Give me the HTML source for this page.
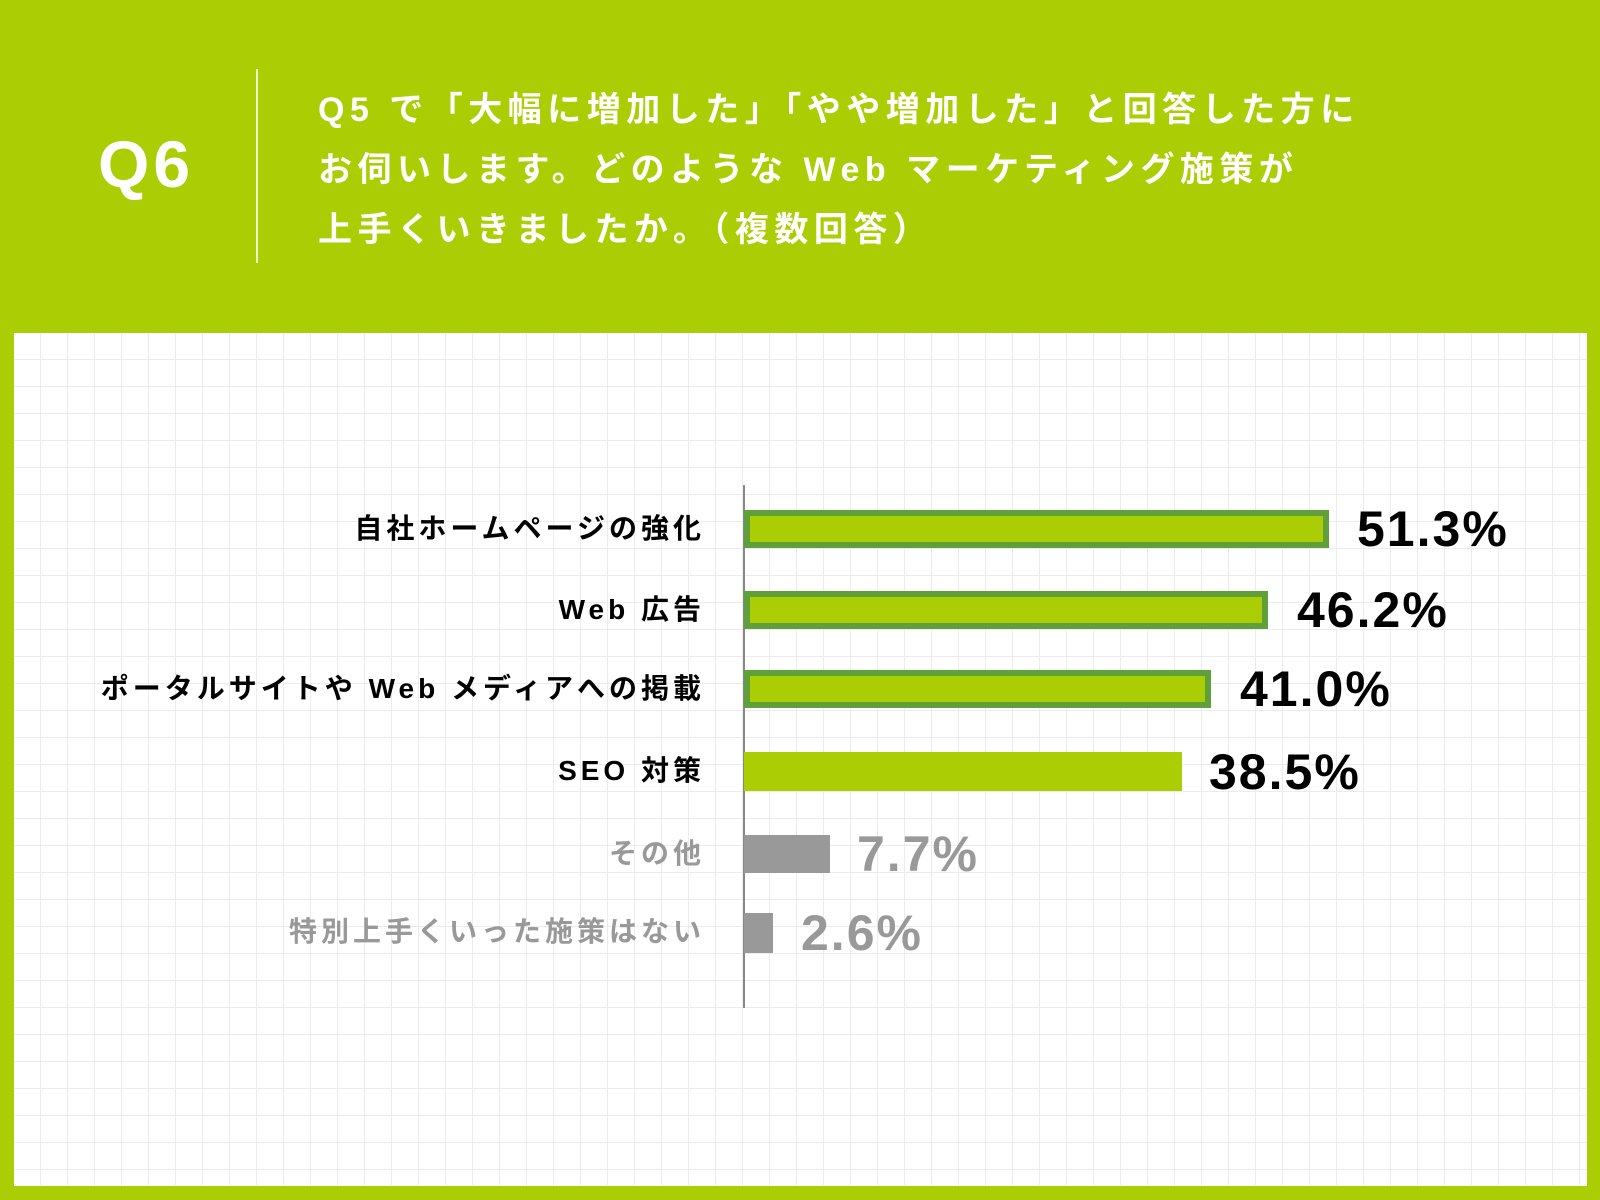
<!DOCTYPE html>
<html><head><meta charset="utf-8"><style>
body{margin:0;width:1600px;height:1200px;background:#abcd03;position:relative;overflow:hidden;font-family:"Liberation Sans","Noto Sans CJK JP",sans-serif}
.panel{position:absolute;left:14px;top:333px;width:1573px;height:853px;background-color:#fff;
background-image:linear-gradient(to right,#ececec 1px,transparent 1px),linear-gradient(to bottom,#ececec 1px,transparent 1px);background-size:27px 27px;background-position:-1px -1px}
.q{position:absolute;left:98px;top:126px;font-size:66px;font-weight:bold;color:#fff;letter-spacing:4px}
.vl{position:absolute;left:256px;top:69px;width:2px;height:194px;background:#fff;opacity:.8}
.t{position:absolute;left:318px;top:80px;font-size:34px;font-weight:bold;color:#fff;line-height:60px;white-space:nowrap;letter-spacing:5.5px}
.ax{position:absolute;left:743px;top:485px;width:2px;height:523px;background:#888}
.bar{position:absolute;left:744px;box-sizing:border-box}
.g{background:#abcd03;border:6px solid #5fa03a}
.lab{position:absolute;right:895px;font-size:28px;font-weight:bold;white-space:nowrap;line-height:38px;letter-spacing:4px}
.val{position:absolute;font-size:50px;font-weight:bold;line-height:38px;letter-spacing:2px}
</style></head><body>
<div class="q">Q6</div>
<div class="vl"></div>
<div class="t">Q5 で「大幅に増加した」「やや増加した」と回答した方に<br>お伺いします。どのような Web マーケティング施策が<br>上手くいきましたか。（複数回答）</div>
<div class="panel"></div>
<div class="ax"></div>
<div class="bar g" style="top:510px;height:38px;width:585px"></div>
<div class="bar g" style="top:591px;height:38px;width:524px"></div>
<div class="bar g" style="top:670px;height:38px;width:467px"></div>
<div class="bar" style="top:752px;height:39px;width:438px;background:#abcd03"></div>
<div class="bar" style="top:835px;height:38px;width:86px;background:#999"></div>
<div class="bar" style="top:913px;height:40px;width:29px;background:#999"></div>
<div class="lab" style="top:510px">自社ホームページの強化</div>
<div class="lab" style="top:591px">Web 広告</div>
<div class="lab" style="top:670px">ポータルサイトや Web メディアへの掲載</div>
<div class="lab" style="top:752px">SEO 対策</div>
<div class="lab" style="top:835px;color:#999">その他</div>
<div class="lab" style="top:913px;color:#999">特別上手くいった施策はない</div>
<div class="val" style="left:1357px;top:510px">51.3%</div>
<div class="val" style="left:1297px;top:591px">46.2%</div>
<div class="val" style="left:1240px;top:670px">41.0%</div>
<div class="val" style="left:1209px;top:753px">38.5%</div>
<div class="val" style="left:857px;top:835px;color:#999">7.7%</div>
<div class="val" style="left:801px;top:914px;color:#999">2.6%</div>
</body></html>
